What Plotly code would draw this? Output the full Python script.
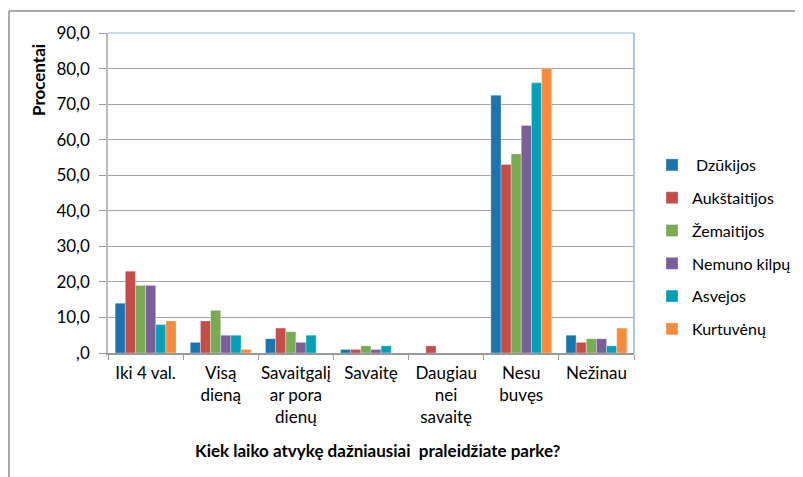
import plotly.graph_objects as go

categories = ["Iki 4 val.", "Visą<br>dieną", "Savaitgalį<br>ar pora<br>dienų", "Savaitę",
              "Daugiau<br>nei<br>savaitę", "Nesu<br>buvęs", "Nežinau"]
series_names = [" Dzūkijos", "Aukštaitijos", "Žemaitijos", "Nemuno kilpų", "Asvejos", "Kurtuvėnų"]
dzukijos = [14, 3, 4, 1, 0, 72.5, 5]
aukstaitijos = [23, 9, 7, 1, 2, 53, 3]
zemaitijos = [19, 12, 6, 2, 0, 56, 4]
nemuno = [19, 5, 3, 1, 0, 64, 4]
asvejos = [8, 5, 5, 2, 0, 76, 2]
kurtuvenu = [9, 1, 0, 0, 0, 80, 7]
y_tick_vals = [0, 10, 20, 30, 40, 50, 60, 70, 80, 90]
y_tick_text = [",0", "10,0", "20,0", "30,0", "40,0", "50,0", "60,0", "70,0", "80,0", "90,0"]

values = [dzukijos, aukstaitijos, zemaitijos, nemuno, asvejos, kurtuvenu]
colors = ["#1A75AE", "#C44D4A", "#7BAA55", "#7A5F98", "#06A0B6", "#F68B3E"]

FONT = "Lato, 'Open Sans', sans-serif"
FS = 17

fig = go.Figure()
for i, (name, vals) in enumerate(zip(series_names, values)):
    fig.add_trace(go.Bar(
        x=categories, y=vals, name=name, legendgroup=f"g{i}",
        marker=dict(color=colors[i], line=dict(color="rgba(255,255,255,0.6)", width=0.5)),
    ))

# page body has an 8px margin: plot area in page coords = x 108..634, y 33..353
W, H = 795, 469
PL, PW, PT, PH = 108, 526, 33, 320
def px(x):
    return (x - PL) / PW
def py(y):
    return (PT + PH - y) / PH

fig.update_layout(
    width=W, height=H,
    margin=dict(l=100, r=169, t=25, b=124, autoexpand=False),
    paper_bgcolor="white", plot_bgcolor="white",
    barmode="group", bargap=0.19, bargroupgap=0,
    font=dict(family=FONT, size=FS, color="#000000"),
    showlegend=True,
    legend=dict(xref="container", yref="container",
                x=(652 - 8) / W, y=1 - (148 - 8) / H, xanchor="left", yanchor="top",
                font=dict(size=16, family=FONT), tracegroupgap=9,
                bgcolor="rgba(0,0,0,0)"),
    xaxis=dict(type="category", tickson="boundaries", ticks="outside", ticklen=5,
               tickcolor="#999999", showline=True, linecolor="#999999", linewidth=1.5,
               showgrid=False, tickfont=dict(size=FS, family=FONT), ticklabelstandoff=4,
               tickangle=0),
    yaxis=dict(range=[0, 90], tickvals=y_tick_vals, ticktext=y_tick_text,
               ticks="outside", ticklen=7, tickcolor="#999999",
               showline=True, linecolor="#BBBBBB", linewidth=1.5,
               showgrid=True, gridcolor="#A6A6A6", gridwidth=1.2,
               tickfont=dict(size=FS, family=FONT), zeroline=False, ticklabelstandoff=6),
)

# plot area border (top/right light blue)
fig.add_shape(type="line", xref="paper", yref="paper", x0=0, x1=1, y0=1, y1=1,
              line=dict(color="#8DB4E2", width=1))
fig.add_shape(type="line", xref="paper", yref="paper", x0=1, x1=1, y0=0, y1=1,
              line=dict(color="#8DB4E2", width=1.5))
# outer chart border (top and left edges visible)
fig.add_shape(type="line", xref="paper", yref="paper", x0=px(9), x1=px(820), y0=py(11), y1=py(11),
              line=dict(color="#8C8C8C", width=1.5))
fig.add_shape(type="line", xref="paper", yref="paper", x0=px(9), x1=px(9), y0=py(11), y1=py(490),
              line=dict(color="#8C8C8C", width=1.5))

fig.add_annotation(text="<b>Procentai</b>", xref="paper", yref="paper",
                   x=px(38), y=py(80), xanchor="center", yanchor="middle",
                   textangle=-90, showarrow=False, font=dict(size=FS, family=FONT))
fig.add_annotation(text="<b>Kiek laiko atvykę dažniausiai  praleidžiate parke?</b>",
                   xref="paper", yref="paper", x=px(378), y=py(450),
                   xanchor="center", yanchor="middle",
                   showarrow=False, font=dict(size=FS, family=FONT))

fig.write_html("out.html")
